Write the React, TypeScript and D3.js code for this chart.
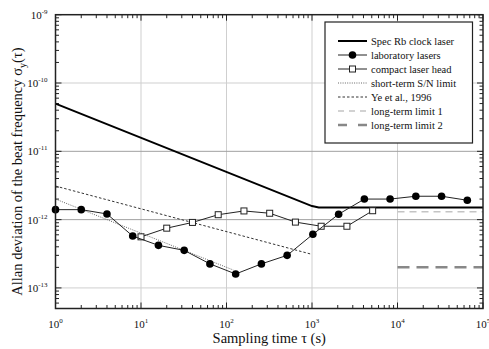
import React, { useRef, useEffect } from 'react'
import * as d3 from 'd3'

// data
const specRb = [[1, 5e-11], [1000, 1.58e-12], [1200, 1.5e-12], [1e5, 1.5e-12]]
const labTau = [1, 2, 4, 8, 16, 32, 64, 128, 256, 512, 1024, 2048, 4096, 8192, 16384, 32768, 65536]
const labSigma = [1.4e-12, 1.4e-12, 1.21e-12, 5.75e-13, 4.2e-13, 3.55e-13, 2.25e-13, 1.6e-13, 2.25e-13, 3.0e-13, 6.1e-13, 1.2e-12, 2.0e-12, 2.0e-12, 2.2e-12, 2.2e-12, 1.92e-12]
const compactTau = [10, 20, 40, 80, 160, 320, 640, 1280, 2560, 5120]
const compactSigma = [5.6e-13, 7.5e-13, 9.1e-13, 1.18e-12, 1.34e-12, 1.24e-12, 9.2e-13, 8.0e-13, 8.0e-13, 1.35e-12]
const snLimit = [[1, 2e-12], [120, 1.83e-13]]
const yeEtAl = [[1, 3.1e-12], [1000, 3.1e-13]]
const longTerm1 = [[1e4, 1.3e-12], [1e5, 1.3e-12]]
const longTerm2 = [[1e4, 2e-13], [1e5, 2e-13]]

const xDecades = [0, 1, 2, 3, 4, 5]
const yDecades = [-9, -10, -11, -12, -13]
const legendItems = ['Spec Rb clock laser', 'laboratory lasers', 'compact laser head', 'short-term S/N limit', 'Ye et al., 1996', 'long-term limit 1', 'long-term limit 2']

const layout = { width: 489, height: 349, left: 55.5, right: 483, top: 14.7, bottom: 308.5 }
const font = '"Liberation Serif", "Times New Roman", serif'

export default function App() {
  const ref = useRef<SVGSVGElement>(null)

  useEffect(() => {
    const svg = d3.select(ref.current)
    svg.selectAll('*').remove()

    const x = d3.scaleLog().domain([1, 1e5]).range([layout.left, layout.right])
    const y = d3.scaleLog().domain([5e-14, 1e-9]).range([layout.bottom, layout.top])

    const g = svg.append('g')

    // grid at decades
    g.selectAll('.vgrid').data(xDecades.slice(1, -1)).join('line')
      .attr('x1', d => x(10 ** d)).attr('x2', d => x(10 ** d))
      .attr('y1', layout.top).attr('y2', layout.bottom)
      .attr('stroke', '#cfcfcf').attr('stroke-width', 1)
    g.selectAll('.hgrid').data(yDecades.slice(1)).join('line')
      .attr('x1', layout.left).attr('x2', layout.right)
      .attr('y1', d => y(10 ** d)).attr('y2', d => y(10 ** d))
      .attr('stroke', d => (d === -11 || d === -12) ? '#a0a0a0' : '#cfcfcf').attr('stroke-width', 1)

    // ticks (inside on all four sides)
    const xTicks: [number, boolean][] = []
    for (let e = 0; e < 5; e++) for (let m = 1; m < 10; m++) xTicks.push([m * 10 ** e, m === 1])
    xTicks.push([1e5, true])
    const yTicks: [number, boolean][] = []
    for (let e = -14; e < -9; e++) for (let m = 1; m < 10; m++) {
      const v = m * 10 ** e
      if (v >= 5e-14) yTicks.push([v, m === 1])
    }
    yTicks.push([1e-9, true])

    const tk = g.append('g').attr('stroke', '#222').attr('stroke-width', 1)
    xTicks.forEach(([v, major]) => {
      const len = major ? 6 : 3.5
      tk.append('line').attr('x1', x(v)).attr('x2', x(v)).attr('y1', layout.bottom).attr('y2', layout.bottom - len)
      tk.append('line').attr('x1', x(v)).attr('x2', x(v)).attr('y1', layout.top).attr('y2', layout.top + len)
    })
    yTicks.forEach(([v, major]) => {
      const len = major ? 6 : 3.5
      tk.append('line').attr('y1', y(v)).attr('y2', y(v)).attr('x1', layout.left).attr('x2', layout.left + len)
      tk.append('line').attr('y1', y(v)).attr('y2', y(v)).attr('x1', layout.right).attr('x2', layout.right - len)
    })

    const line = d3.line<number[]>().x(d => x(d[0])).y(d => y(d[1]))

    // reference lines
    g.append('path').attr('d', line(snLimit)).attr('fill', 'none')
      .attr('stroke', '#555').attr('stroke-width', 0.9).attr('stroke-dasharray', '1,1.3')
    g.append('path').attr('d', line(yeEtAl)).attr('fill', 'none')
      .attr('stroke', '#333').attr('stroke-width', 1).attr('stroke-dasharray', '2.5,2')
    g.append('path').attr('d', line(longTerm1)).attr('fill', 'none')
      .attr('stroke', '#c4c4c4').attr('stroke-width', 1.5).attr('stroke-dasharray', '7,5')
    g.append('path').attr('d', line(longTerm2)).attr('fill', 'none')
      .attr('stroke', '#888').attr('stroke-width', 2.5).attr('stroke-dasharray', '12,7')
    g.append('path').attr('d', line(specRb)).attr('fill', 'none')
      .attr('stroke', '#000').attr('stroke-width', 2)

    // compact laser head
    const compact = compactTau.map((t, i) => [t, compactSigma[i]])
    g.append('path').attr('d', line(compact)).attr('fill', 'none').attr('stroke', '#222').attr('stroke-width', 1)
    g.selectAll('.sq').data(compact).join('rect')
      .attr('x', d => x(d[0]) - 3).attr('y', d => y(d[1]) - 3)
      .attr('width', 6).attr('height', 6)
      .attr('fill', '#fff').attr('stroke', '#222').attr('stroke-width', 1)

    // laboratory lasers
    const lab = labTau.map((t, i) => [t, labSigma[i]])
    g.append('path').attr('d', line(lab)).attr('fill', 'none').attr('stroke', '#222').attr('stroke-width', 1)
    g.selectAll('.dot').data(lab).join('circle')
      .attr('cx', d => x(d[0])).attr('cy', d => y(d[1])).attr('r', 3.8).attr('fill', '#000')

    // frame
    g.append('rect').attr('x', layout.left).attr('y', layout.top)
      .attr('width', layout.right - layout.left).attr('height', layout.bottom - layout.top)
      .attr('fill', 'none').attr('stroke', '#222').attr('stroke-width', 1.5)

    // tick labels
    const xl = g.selectAll('.xl').data(xDecades).join('text')
      .attr('x', d => x(10 ** d)).attr('y', layout.bottom + 19)
      .attr('text-anchor', 'middle').attr('font-family', font).attr('font-size', 11).attr('fill', '#111')
    xl.append('tspan').text('10')
    xl.append('tspan').attr('dy', -5).attr('font-size', 7).text(d => String(d))

    const yl = g.selectAll('.yl').data(yDecades).join('text')
      .attr('x', layout.left - 8).attr('y', d => y(10 ** d) + 4)
      .attr('text-anchor', 'end').attr('font-family', font).attr('font-size', 11).attr('fill', '#111')
    yl.append('tspan').text('10')
    yl.append('tspan').attr('dy', -5).attr('font-size', 7).text(d => String(d))

    // axis titles
    g.append('text').attr('x', (layout.left + layout.right) / 2).attr('y', 343)
      .attr('text-anchor', 'middle').attr('font-family', font).attr('font-size', 14.5).attr('fill', '#111')
      .text('Sampling time τ (s)')
    const yt = g.append('text').attr('transform', `translate(22, ${(layout.top + layout.bottom) / 2 + 10}) rotate(-90)`)
      .attr('text-anchor', 'middle').attr('font-family', font).attr('font-size', 14.5).attr('fill', '#111')
    yt.append('tspan').text('Allan deviation of the beat frequency σ')
    yt.append('tspan').attr('dy', 4).attr('font-size', 10).text('y')
    yt.append('tspan').attr('dy', -4).text('(τ)')

    // legend
    const lg = g.append('g')
    lg.append('rect').attr('x', 325).attr('y', 22).attr('width', 147.5).attr('height', 121)
      .attr('fill', '#fff').attr('stroke', '#222').attr('stroke-width', 1.2)
    const ly = (i: number) => 41 + i * 14
    const x0 = 338, x1 = 367
    const styles = [
      { stroke: '#000', w: 2, dash: null },
      { stroke: '#222', w: 1, dash: null },
      { stroke: '#222', w: 1, dash: null },
      { stroke: '#555', w: 0.9, dash: '1,1.3' },
      { stroke: '#333', w: 1, dash: '2.5,2' },
      { stroke: '#c4c4c4', w: 1.5, dash: '6,5' },
      { stroke: '#888', w: 2.5, dash: '9,11' },
    ]
    legendItems.forEach((name, i) => {
      const s = styles[i]
      lg.append('line').attr('x1', x0).attr('x2', x1).attr('y1', ly(i)).attr('y2', ly(i))
        .attr('stroke', s.stroke).attr('stroke-width', s.w).attr('stroke-dasharray', s.dash)
      if (i === 1) lg.append('circle').attr('cx', (x0 + x1) / 2).attr('cy', ly(i)).attr('r', 3.8).attr('fill', '#000')
      if (i === 2) lg.append('rect').attr('x', (x0 + x1) / 2 - 3).attr('y', ly(i) - 3).attr('width', 6).attr('height', 6)
        .attr('fill', '#fff').attr('stroke', '#222')
      lg.append('text').attr('x', 371).attr('y', ly(i) + 3.5)
        .attr('font-family', font).attr('font-size', 10.5).attr('fill', '#111').text(name)
    })
  }, [])

  return (
    <svg ref={ref} width={layout.width} height={layout.height}
      style={{ position: 'absolute', left: 0, top: 0, background: '#fff' }} />
  )
}
